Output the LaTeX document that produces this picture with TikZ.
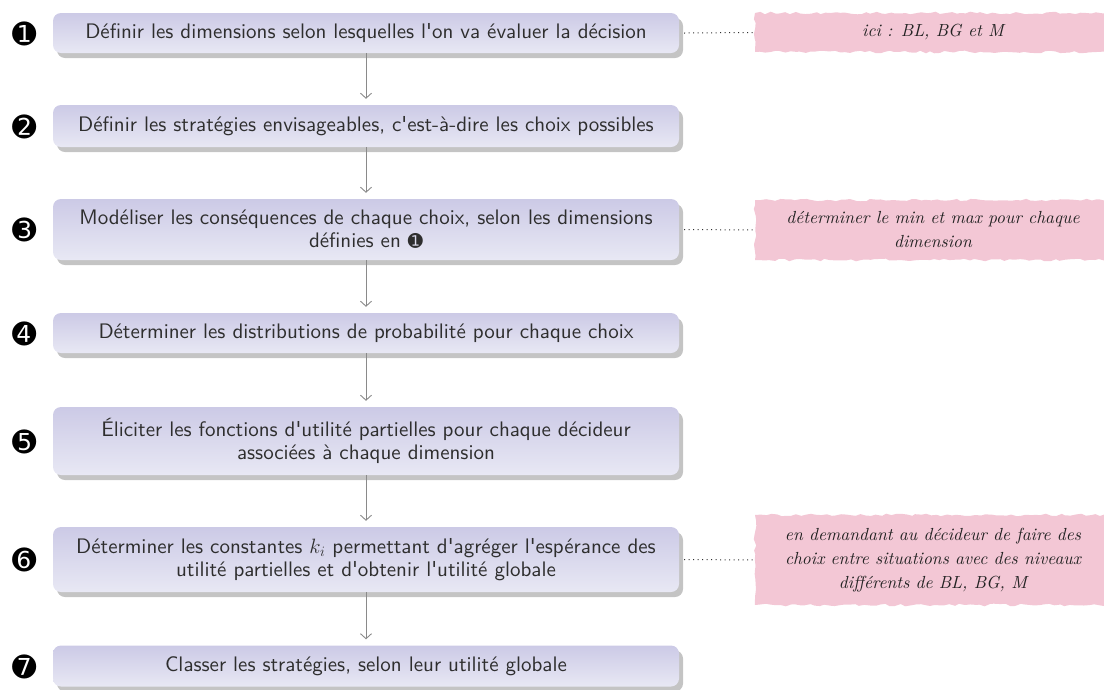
\documentclass[tikz,border=0pt]{standalone}
\usepackage{fontspec}
\newfontfamily\dingfont{DejaVu Sans}
\newfontfamily\boxfont{lmsans10-regular.otf}
\newfontfamily\notefont{lmroman10-italic.otf}
\usetikzlibrary{shadows,decorations.pathmorphing,arrows.meta}
\definecolor{boxtop}{HTML}{CCCAE6}
\definecolor{boxbot}{HTML}{E8E8F4}
\definecolor{notepink}{HTML}{F3C7D5}
\definecolor{txt}{HTML}{2E2E2E}
\definecolor{notetxt}{HTML}{222222}
\definecolor{shadowgray}{HTML}{C4C4C4}
\definecolor{arrowgray}{HTML}{8A8A8A}
\begin{document}
\begin{tikzpicture}[x=1pt,y=-1pt,
  stepbox/.style={rounded corners=8pt, top color=boxtop, bottom color=boxbot,
    minimum width=626pt, inner sep=0pt, align=center, text=txt,
    font=\fontsize{21}{23}\selectfont\boxfont,
    drop shadow={shadow xshift=4pt, shadow yshift=-5pt, fill=shadowgray, opacity=1}},
  notebox/.style={fill=notepink, minimum width=356pt, inner sep=0pt, align=center, text=notetxt,
    font=\fontsize{17.5}{24}\selectfont\notefont,
    decorate, decoration={random steps, segment length=5pt, amplitude=1.3pt}},
  marker/.style={font=\fontsize{29}{29}\selectfont\dingfont, text=black, inner sep=0pt},
  arr/.style={draw=arrowgray, line width=0.9pt, -{Straight Barb[length=5pt,width=11pt]}, shorten >=6pt},
  dots/.style={draw=txt, line width=1pt, dash pattern=on 1pt off 3.5pt}
]
\useasboundingbox (0,0) rectangle (1104,689);
\pgfmathsetseed{7}

\node[stepbox, minimum height=40pt] (b1) at (366,33) {Définir les dimensions selon lesquelles l'on va évaluer la décision};
\node[stepbox, minimum height=42pt] (b2) at (366,126) {Définir les stratégies envisageables, c'est-à-dire les choix possibles};
\node[stepbox, minimum height=61pt] (b3) at (366,229.5) {Modéliser les conséquences de chaque choix, selon les dimensions\\définies en {\dingfont\fontsize{18}{18}\selectfont ➊}};
\node[stepbox, minimum height=40pt] (b4) at (366,333) {Déterminer les distributions de probabilité pour chaque choix};
\node[stepbox, minimum height=68pt] (b5) at (366,441) {Éliciter les fonctions d'utilité partielles pour chaque décideur\\associées à chaque dimension};
\node[stepbox, minimum height=65pt] (b6) at (366,559.5) {Déterminer les constantes $k_i$ permettant d'agréger l'espérance des\\utilité partielles et d'obtenir l'utilité globale};
\node[stepbox, minimum height=41pt] (b7) at (366,666) {Classer les stratégies, selon leur utilité globale};

\node[marker] (m1) at (25,34) {➊};
\node[marker] (m2) at (25,127) {➋};
\node[marker] (m3) at (25,230) {➌};
\node[marker] (m4) at (25,334) {➍};
\node[marker] (m5) at (25,442) {➎};
\node[marker] (m6) at (25,560) {➏};
\node[marker] (m7) at (25,667) {➐};

\draw[arr] (b1.south) -- (b2.north);
\draw[arr] (b2.south) -- (b3.north);
\draw[arr] (b3.south) -- (b4.north);
\draw[arr] (b4.south) -- (b5.north);
\draw[arr] (b5.south) -- (b6.north);
\draw[arr] (b6.south) -- (b7.north);

\node[notebox, minimum height=39pt] (n1) at (933,32.5) {ici : BL, BG et M};
\node[notebox, minimum height=60pt] (n3) at (933,230) {déterminer le min et max pour chaque\\dimension};
\node[notebox, minimum height=90pt] (n6) at (933,560) {en demandant au décideur de faire des\\choix entre situations avec des niveaux\\différents de BL, BG, M};

\draw[dots] ([xshift=5pt]b1.east) -- (n1.west);
\draw[dots] ([xshift=5pt]b3.east) -- (n3.west);
\draw[dots] ([xshift=5pt]b6.east) -- (n6.west);
\end{tikzpicture}
\end{document}
